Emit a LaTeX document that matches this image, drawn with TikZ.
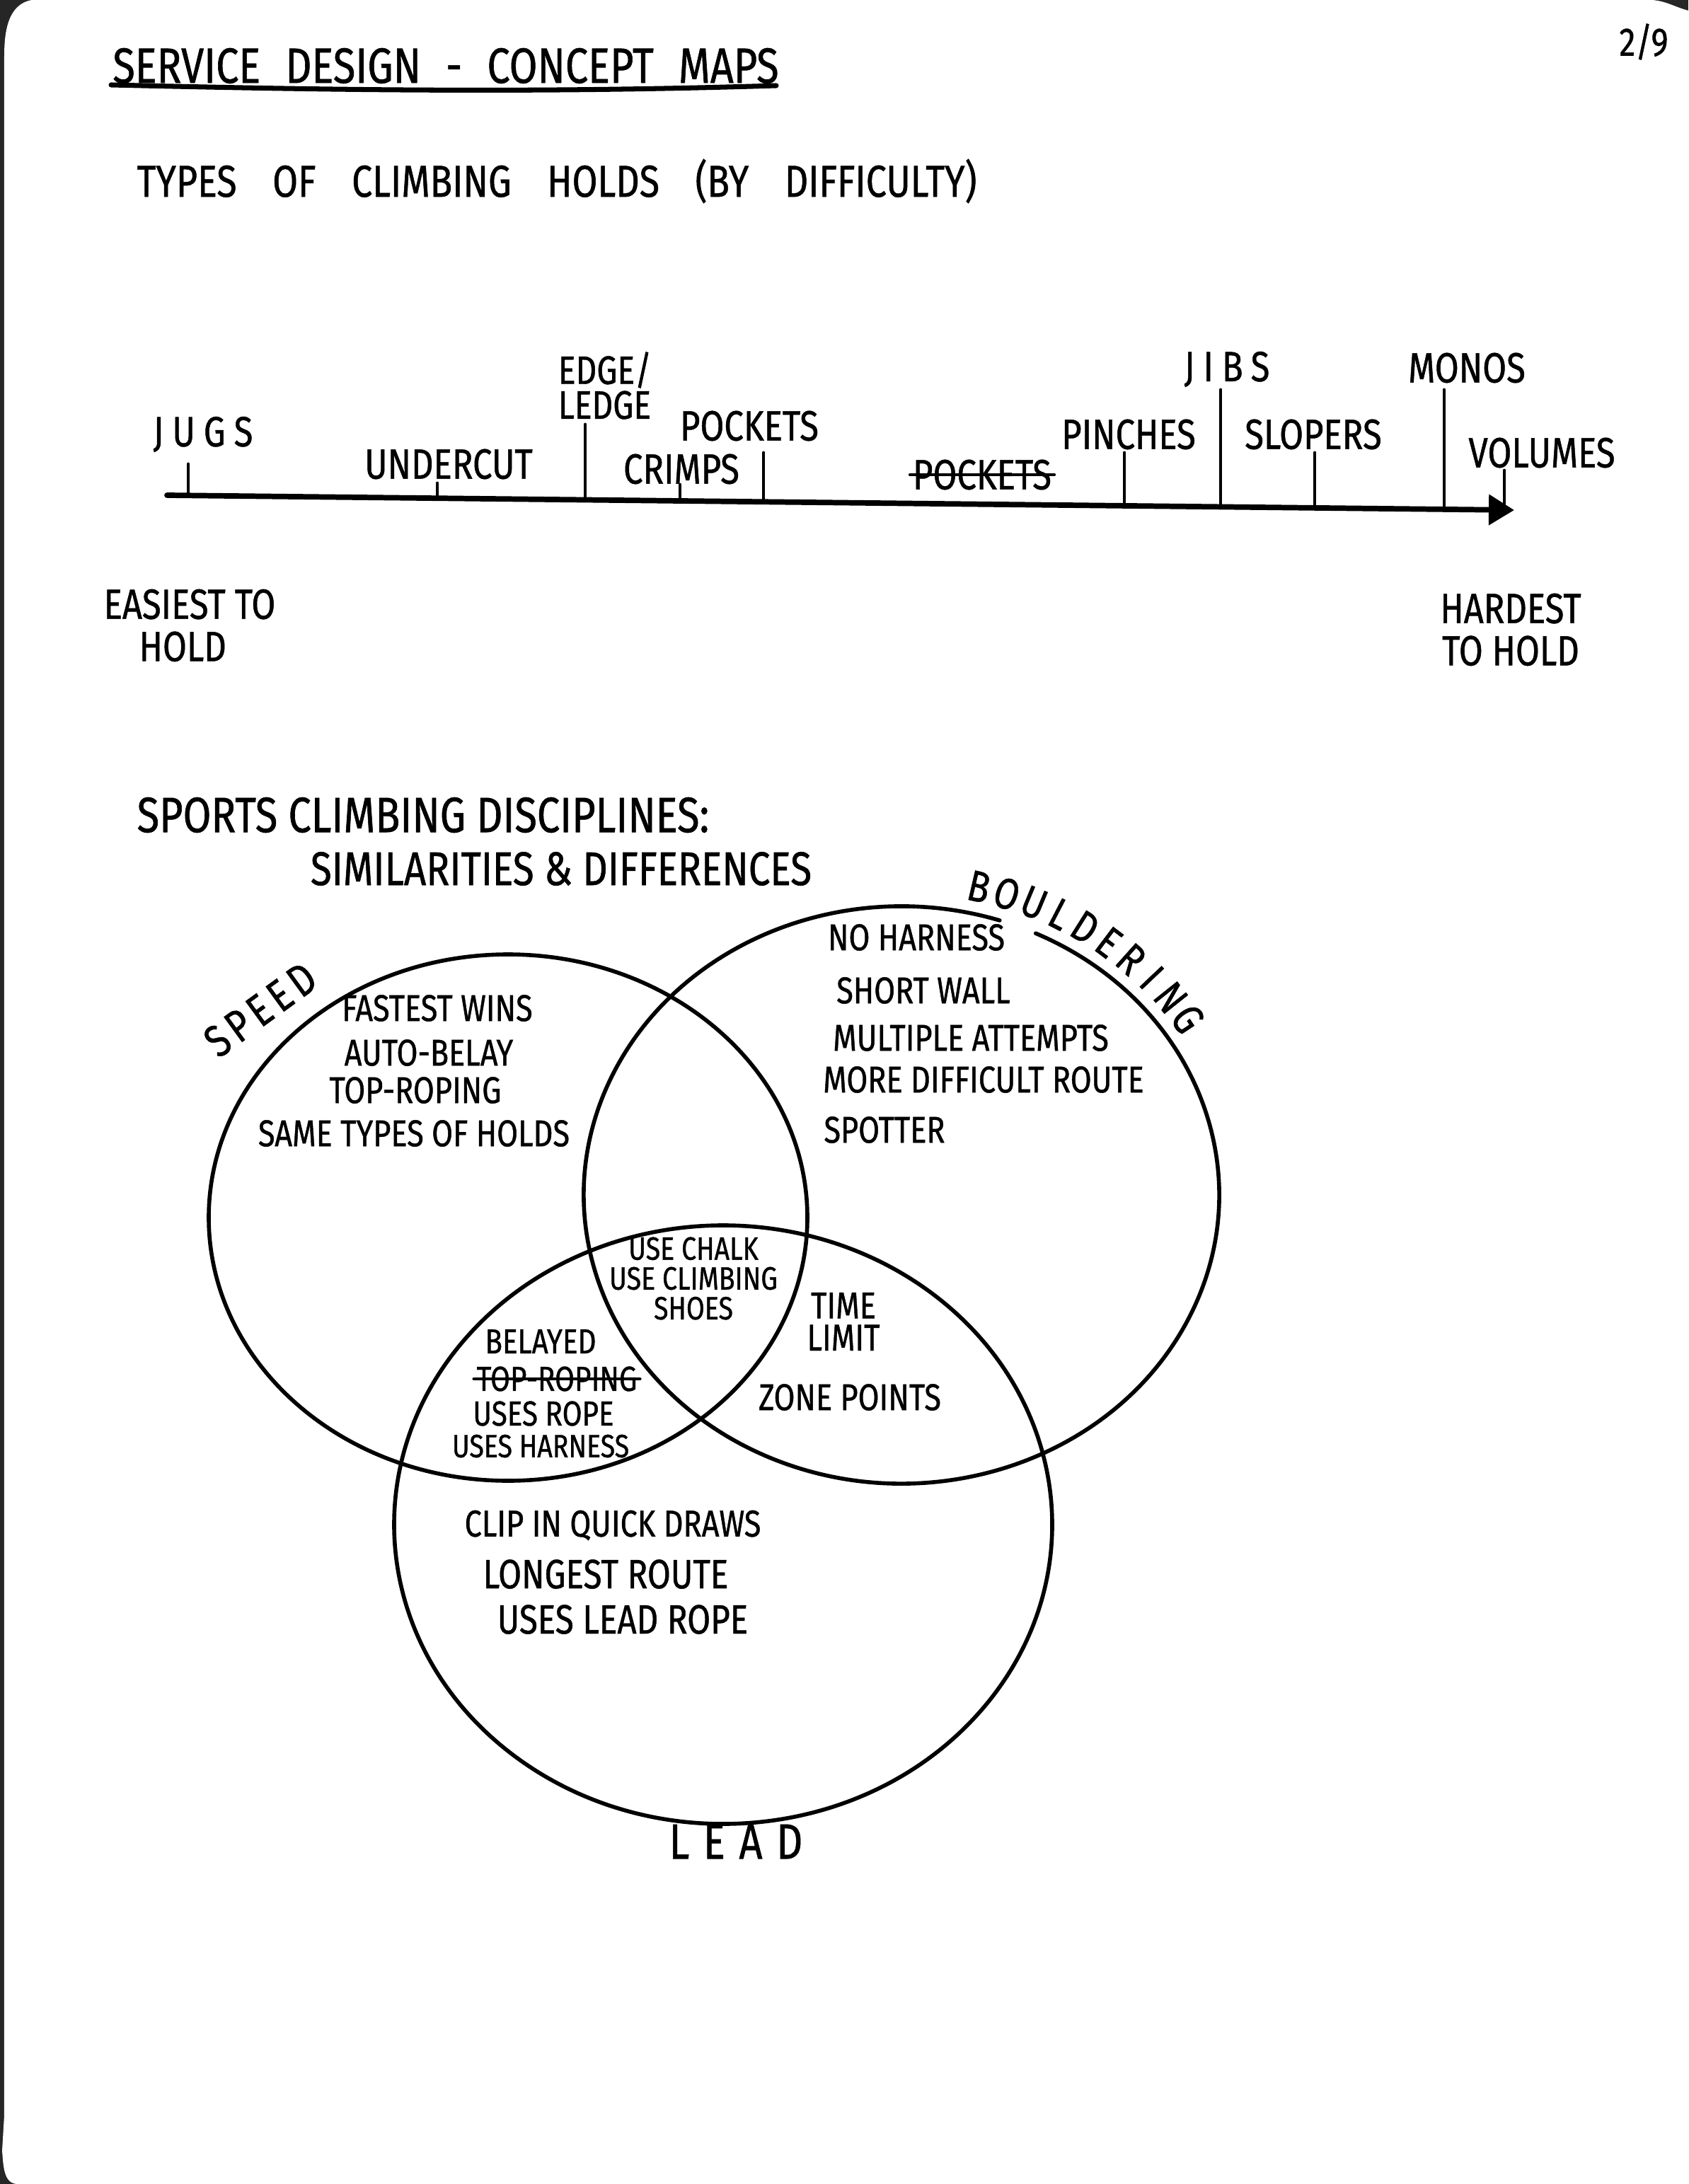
\documentclass[tikz,border=0pt]{standalone}
\usepackage{fontspec}
\setmainfont{Fira Sans}[FakeStretch=0.82, FakeBold=0.8]
\usetikzlibrary{arrows.meta}

\tikzset{
  pen/.style={line width=1.3pt, line cap=round, line join=round},
  venn/.style={pen, line width=1.6pt},
  tick/.style={pen, line width=1.4pt},
  axis/.style={pen, line width=2.2pt, -{Triangle[length=0.36cm,width=0.42cm]}},
  strike/.style={pen, line width=1.1pt},
  hand/.style={inner sep=1pt, text=black},
  heading/.style={hand, font={\fontsize{20}{20}\selectfont\spaceskip=.5em\relax}},
  subhead/.style={hand, font={\fontsize{18}{18}\selectfont\spaceskip=.8em\relax}},
  section/.style={hand, font={\fontsize{20}{20}\selectfont}},
  hold/.style={hand, font={\fontsize{17}{17}\selectfont}},
  spaced/.style={hand, font={\fontsize{17}{17}\selectfont\addfontfeatures{LetterSpace=20}}},
  ends/.style={hand, font={\fontsize{17}{17}\selectfont}},
  vtxt/.style={hand, font={\fontsize{15}{15}\selectfont}},
  small/.style={hand, font={\fontsize{13}{12}\selectfont}, align=center},
  discipline/.style={hand, font={\fontsize{20}{20}\selectfont}},
  blet/.style={inner sep=0pt, text=black, font={\fontsize{17.5}{17.5}\selectfont}},
}

\begin{document}
\begin{tikzpicture}
  \useasboundingbox (0,0) rectangle (23.86,-30.87);
  \fill[black!85] (0,0) rectangle (23.86,-30.87);
  \fill[white] (0.06,-29.9) -- (0.06,-0.8) to[out=90,in=190] (0.45,0)
    -- (23.35,0) to[out=-5,in=165] (23.86,-0.15) -- (23.86,-30.87)
    -- (0.25,-30.87) to[out=180,in=-85] (0.03,-30.4) -- cycle;

  \node[heading] (title) at (6.30,-0.93) {SERVICE DESIGN - CONCEPT MAPS};
  \coordinate (ul1) at (1.57,-1.20);
  \coordinate (ul2) at (10.97,-1.21);
  \draw[pen, line width=2pt] (ul1) .. controls (4.5,-1.27) and (7.5,-1.32) .. (ul2);
  \node[hand, font={\fontsize{16}{16}\selectfont}] (pagenr) at (23.23,-0.59) {2/9};

  \node[subhead] (holds) at (7.87,-2.56) {TYPES OF CLIMBING HOLDS (BY DIFFICULTY)};

  \coordinate (ax0) at (2.36,-7.0);
  \coordinate (ax1) at (21.40,-7.21);
  \draw[axis] (ax0) -- (ax1);
  \foreach \x/\t/\n in {2.66/-6.56/jugs, 6.18/-6.83/undercut, 8.27/-6.00/edge,
      9.61/-6.85/crimps, 10.79/-6.40/pockets, 15.89/-6.40/pinches,
      17.25/-5.51/jibs, 18.58/-6.40/slopers, 20.41/-5.51/monos, 21.26/-6.65/volumes} {
    \pgfmathsetmacro\b{-7.0-0.011*(\x-2.36)}
    \coordinate (t\n) at (\x,\t);
    \coordinate (a\n) at (\x,\b);
    \draw[tick] (t\n) -- (a\n);
  }

  \node[spaced] (jugs) at (2.87,-6.14) {JUGS};
  \node[hold] (undercut) at (6.34,-6.56) {UNDERCUT};
  \node[hold, font={\fontsize{16}{14}\selectfont}, align=left] (edge) at (8.55,-5.45) {EDGE/\\LEDGE};
  \node[hold] (pockets) at (10.59,-6.02) {POCKETS};
  \node[hold] (crimps) at (9.63,-6.63) {CRIMPS};
  \node[hold] (pocketsx) at (13.88,-6.71) {POCKETS};
  \draw[strike] (pocketsx.west) -- (pocketsx.east);
  \node[hold] (pinches) at (15.95,-6.14) {PINCHES};
  \node[spaced] (jibs) at (17.34,-5.22) {JIBS};
  \node[hold] (slopers) at (18.56,-6.14) {SLOPERS};
  \node[hold] (monos) at (20.73,-5.20) {MONOS};
  \node[hold] (volumes) at (21.79,-6.40) {VOLUMES};

  \node[ends, align=left] (easy) at (2.68,-8.84) {EASIEST TO\\\hspace*{0.5cm}HOLD};
  \node[ends, align=center] (hard) at (21.35,-8.90) {HARDEST\\TO HOLD};

  \node[section] (sports) at (5.98,-11.52) {SPORTS CLIMBING DISCIPLINES:};
  \node[section, font={\fontsize{19}{19}\selectfont}] (simdiff) at (7.93,-12.28) {SIMILARITIES \& DIFFERENCES};

  \coordinate (speed) at (7.18,-17.21);
  \coordinate (boulder) at (12.74,-16.89);
  \coordinate (lead) at (10.22,-21.55);
  \draw[venn] (speed) ellipse [x radius=4.23, y radius=3.72];
  \draw[venn] (boulder) ++(65:4.49 and 4.08) arc[start angle=65, end angle=-288, x radius=4.49, y radius=4.08];
  \draw[venn] (lead) ++(50:4.65 and 4.23) arc[start angle=50, end angle=-318, x radius=4.65, y radius=4.23];

  \node[discipline, inner sep=0pt, rotate=36, font={\fontsize{18}{18}\selectfont\addfontfeatures{LetterSpace=12}}] (speedlbl) at (3.68,-14.27) {SPEED};
  \foreach \c [count=\i] in {B,O,U,L,D,E,R,I,N,G} {
    \pgfmathsetmacro\a{77-(\i-1)*4.8}
    \node[blet, rotate=\a-90] (bl\i) at ([shift={(\a:4.87 and 4.47)}]boulder) {\c};
  }
  \node[discipline, font={\fontsize{20}{20}\selectfont\addfontfeatures{LetterSpace=28}}] (leadlbl) at (10.40,-26.03) {LEAD};

  \node[vtxt] (fastest) at (6.18,-14.25) {FASTEST WINS};
  \node[vtxt] (autobelay) at (6.06,-14.88) {AUTO-BELAY};
  \node[vtxt] (toprope) at (5.87,-15.41) {TOP-ROPING};
  \node[vtxt] (sametypes) at (5.85,-16.02) {SAME TYPES OF HOLDS};

  \node[vtxt] (noharness) at (12.95,-13.25) {NO HARNESS};
  \node[vtxt] (shortwall) at (13.05,-14.00) {SHORT WALL};
  \node[vtxt] (attempts) at (13.72,-14.67) {MULTIPLE ATTEMPTS};
  \node[vtxt] (difficult) at (13.90,-15.26) {MORE DIFFICULT ROUTE};
  \node[vtxt] (spotter) at (12.50,-15.97) {SPOTTER};

  \node[small] (common) at (9.80,-18.07) {USE CHALK\\USE CLIMBING\\SHOES};

  \node[vtxt, font={\fontsize{14}{14}\selectfont}] (belayed) at (7.64,-18.96) {BELAYED};
  \node[vtxt, font={\fontsize{14}{14}\selectfont}] (toprope2) at (7.87,-19.49) {TOP-ROPING};
  \draw[strike] (toprope2.west) -- (toprope2.east);
  \node[vtxt, font={\fontsize{14}{14}\selectfont}] (usesrope) at (7.68,-19.98) {USES ROPE};
  \node[vtxt, font={\fontsize{13}{13}\selectfont}] (usesharness) at (7.64,-20.44) {USES HARNESS};

  \node[vtxt, font={\fontsize{15}{13}\selectfont}, align=center] (timelimit) at (11.92,-18.68) {TIME\\LIMIT};
  \node[vtxt] (zonepoints) at (12.01,-19.75) {ZONE POINTS};

  \node[vtxt] (clipin) at (8.66,-21.56) {CLIP IN QUICK DRAWS};
  \node[vtxt, font={\fontsize{16.5}{16.5}\selectfont}] (longest) at (8.56,-22.25) {LONGEST ROUTE};
  \node[vtxt, font={\fontsize{16.5}{16.5}\selectfont}] (leadrope) at (8.80,-22.89) {USES LEAD ROPE};
\end{tikzpicture}
\end{document}
